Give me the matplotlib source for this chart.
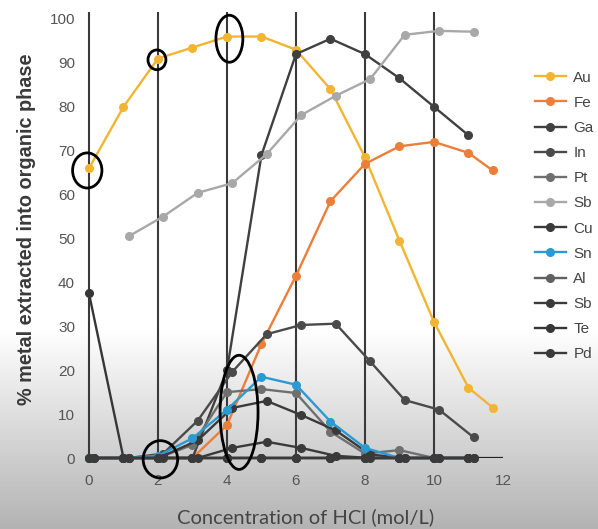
import numpy as np
import matplotlib
matplotlib.use('Agg')
from matplotlib import pyplot as plt
from matplotlib.patches import Ellipse

# HCl concentration (mol/L); some series were sampled slightly offset
x_std = [0, 1, 2, 3, 4, 5, 6, 7, 8, 9, 10, 11]
x_long = [0, 1, 2, 3, 4, 5, 6, 7, 8, 9, 10, 11, 11.7]
x_off = [0.15, 1.15, 2.15, 3.15, 4.15, 5.15, 6.15, 7.15, 8.15, 9.15, 10.15, 11.15]
x_sb = [1.15, 2.15, 3.15, 4.15, 5.15, 6.15, 7.15, 8.15, 9.15, 10.15, 11.15]

au = [66, 80, 91, 93.5, 96, 96, 93, 84, 68.5, 49.5, 31, 16, 11.5]
fe = [0, 0, 0, 0, 7.5, 26, 41.5, 58.5, 67, 71, 72, 69.5, 65.5]
ga = [0, 0, 0, 0, 20, 69, 92, 95.5, 92, 86.5, 80, 73.5]
in_ = [0, 0, 1, 8.5, 19.6, 28.2, 30.3, 30.6, 22, 13.2, 11, 4.7]
pt = [0, 0, 0, 3, 15, 15.7, 14.8, 6, 1, 1.8, 0, 0]
sb_light = [50.5, 55, 60.4, 62.6, 69.2, 78.1, 82.5, 86.3, 96.4, 97.3, 97.1]
cu = [0, 0, 0.5, 4, 11.4, 13, 9.8, 6.3, 0.8, 0, 0, 0]
sn = [0, 0, 0.5, 4.5, 11, 18.5, 16.7, 8.3, 2.3, 0, 0, 0]
al = [0, 0, 0, 0, 0, 0, 0, 0, 0, 0, 0, 0]
sb_dark = [0, 0, 0, 0, 2.3, 3.7, 2.3, 0.5, 0, 0, 0, 0]
te = [37.5, 0, 0, 0, 0, 0, 0, 0, 0, 0, 0, 0]
pd_ = [0, 0, 0, 0, 0, 0, 0, 0, 0, 0, 0, 0]

series = [
    ('Au', x_long, au, '#F2B531'),
    ('Fe', x_long, fe, '#EB7F3A'),
    ('Ga', x_std, ga, '#404040'),
    ('In', x_off, in_, '#4a4a4a'),
    ('Pt', x_std, pt, '#6f6f6f'),
    ('Sb', x_sb, sb_light, '#A8A8A8'),
    ('Cu', x_off, cu, '#3a3a3a'),
    ('Sn', x_std, sn, '#2A9AD2'),
    ('Al', x_std, al, '#606060'),
    ('Sb', x_off, sb_dark, '#3a3a3a'),
    ('Te', x_std, te, '#363636'),
    ('Pd', x_std, pd_, '#3a3a3a'),
]

fig = plt.figure(figsize=(5.98, 5.29), dpi=100)

# screenshot background: white fading to grey at the bottom
t = np.linspace(0, 1, 529)
g = np.where(t < 0.62, 1.0, 1.0 - (t - 0.62) / 0.38 * 0.3)
bg = fig.add_axes([0, 0, 1, 1], zorder=-10)
bg.imshow(np.tile(g[:, None], (1, 10)), aspect='auto', cmap='gray', vmin=0, vmax=1,
          extent=[0, 1, 0, 1])
bg.axis('off')

ax = fig.add_axes([0.1488, 0.1342, 0.6923, 0.8299])
ax.patch.set_alpha(0)

ax.vlines([0, 2, 4, 6, 8, 10], 0, 101.5, colors='#3a3a3a', lw=1.5, clip_on=False, zorder=1)
ax.axhline(0, color='#222222', lw=1.6, zorder=1)

for name, xs, ys, c in series:
    ax.plot(xs, ys, '-o', color=c, lw=1.7, ms=5.5, label=name, clip_on=False, zorder=3)

# hand-drawn marks on the screenshot
for cx, cy, w, h in [(-0.05, 65.5, 0.85, 8), (1.97, 90.7, 0.52, 4.5), (4.07, 95.5, 0.78, 10.7),
                     (2.07, -0.3, 1.0, 8.5), (4.35, 10.4, 1.1, 26)]:
    ax.add_patch(Ellipse((cx, cy), w, h, fill=False, ec='black', lw=2, clip_on=False, zorder=5))

ax.set_xlim(0, 12)
ax.set_ylim(0, 100)
ax.set_xticks(range(0, 13, 2))
ax.set_yticks(range(0, 101, 10))
for s in ax.spines.values():
    s.set_visible(False)
ax.tick_params(length=0, pad=10, labelsize=11, labelcolor='#555555')
ax.tick_params(axis='x', pad=11.5)
for lab in ax.get_yticklabels() + ax.get_xticklabels():
    lab.set_fontfamily('Liberation Sans')

ax.set_xlabel('Concentration of HCl (mol/L)', fontsize=14.5, family='Lato', color='#444444')
ax.set_ylabel('% metal extracted into organic phase', fontsize=14.3, family='Liberation Sans',
              fontweight='bold', color='#3a3a3a')
ax.xaxis.label.set_va('center')
ax.yaxis.label.set_va('center')
ax.xaxis.set_label_coords(0.524, -0.134)
ax.yaxis.set_label_coords(-0.15, 0.52)

ax.legend(loc='upper left', bbox_to_anchor=(0.882, 1 - 63 / 529), bbox_transform=fig.transFigure,
          frameon=False, borderpad=0, handlelength=2.0, handletextpad=0.5, labelspacing=0.73,
          prop={'family': 'Liberation Sans', 'size': 11}, labelcolor='#444444')

fig.savefig('out.png', dpi=100)
